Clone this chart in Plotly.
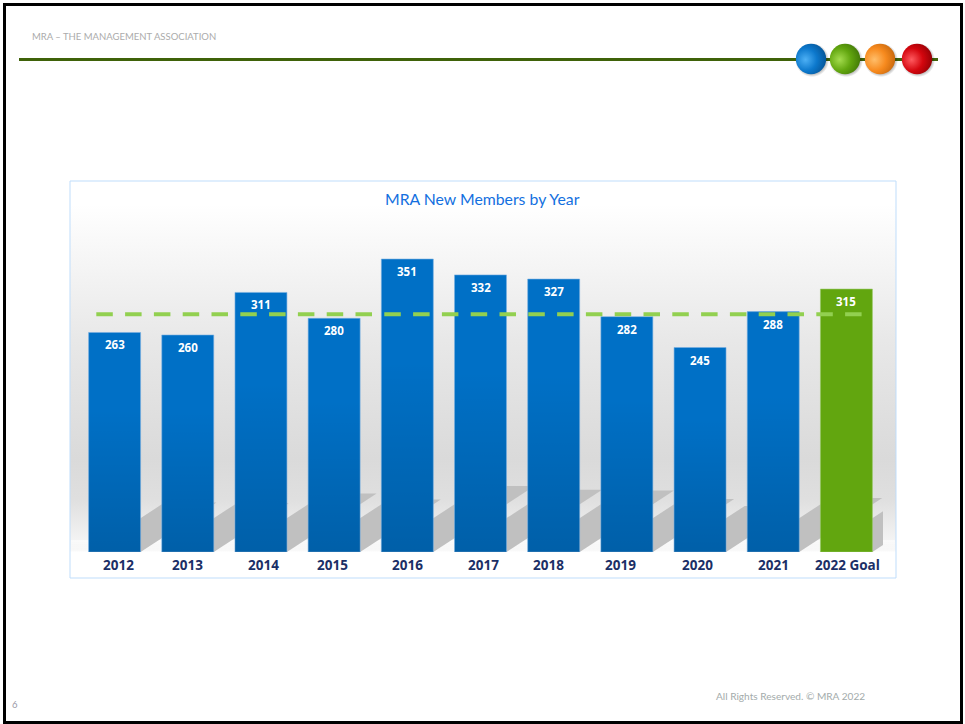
import base64
import plotly.graph_objects as go

# Chart data
categories = ["2012", "2013", "2014", "2015", "2016", "2017", "2018", "2019", "2020", "2021", "2022 Goal"]
new_members = [263, 260, 311, 280, 351, 332, 327, 282, 245, 288, 315]
reference_level = 285
label_nudges = [4.4, 0.2, 3, -1.6, -0.3, 2.5, -5.2, -5.9, -3, -0.2, 1.1]

# Colours
BLUE = "#0070C6"
GREEN = "#62A60F"
DASH = "#92D050"
NAVY = "#1B2F66"

W, H = 965, 724
L, R, T, B = 78, 883, 181, 552   # plot rectangle in page pixels
BAR_WIDTH = 0.71
Y_TOP = 444.5
SHADOW_RISE = 0.225              # shadow height as a share of bar height
SHADOW_SHEAR = 0.00394           # sideways lean of the shadow per member


def px(x):
    return (x - L) / (R - L)


def py(y):
    return (B - y) / (B - T)


def svg_uri(body, w=100, h=100):
    svg = (f'<svg xmlns="http://www.w3.org/2000/svg" width="{w}" height="{h}" '
           f'viewBox="0 0 {w} {h}" preserveAspectRatio="none">{body}</svg>')
    return "data:image/svg+xml;base64," + base64.b64encode(svg.encode()).decode()


def backdrop_uri():
    stops = [(0, "#ffffff"), (0.06, "#ffffff"), (0.40, "#e8e8e8"), (0.70, "#dadada"),
             (0.80, "#dfdfdf"), (0.93, "#f8f8f8"), (0.935, "#ffffff"), (1, "#ffffff")]
    s = "".join(f'<stop offset="{o}" stop-color="{c}"/>' for o, c in stops)
    return svg_uri(f'<defs><linearGradient id="g" x1="0" y1="0" x2="0" y2="1">{s}</linearGradient></defs>'
                   f'<rect width="100" height="100" fill="url(#g)"/>')


def bar_shade_uri():
    return svg_uri('<defs><linearGradient id="g" x1="0" y1="0" x2="0" y2="1">'
                   '<stop offset="0.35" stop-color="#000" stop-opacity="0"/>'
                   '<stop offset="1" stop-color="#000" stop-opacity="0.15"/>'
                   '</linearGradient></defs><rect width="100" height="100" fill="url(#g)"/>')


def sphere_uri(light, mid, dark):
    return svg_uri(
        '<defs>'
        f'<radialGradient id="b" cx="0.32" cy="0.52" r="0.75">'
        f'<stop offset="0" stop-color="{light}"/><stop offset="0.5" stop-color="{mid}"/>'
        f'<stop offset="1" stop-color="{dark}"/></radialGradient>'
        '<radialGradient id="s"><stop offset="0.75" stop-color="#000" stop-opacity="0.35"/>'
        '<stop offset="1" stop-color="#000" stop-opacity="0"/></radialGradient>'
        '</defs>'
        '<circle cx="53" cy="53" r="46" fill="url(#s)"/>'
        '<circle cx="50" cy="50" r="41" fill="url(#b)"/>')


x_pos = list(range(len(categories)))
bar_colors = [BLUE] * 10 + [GREEN]
edge_colors = ["rgba(120,175,225,0.6)"] * 10 + ["rgba(150,200,100,0.6)"]

fig = go.Figure()
fig.add_trace(go.Bar(
    x=x_pos, y=new_members, width=BAR_WIDTH,
    marker=dict(color=bar_colors, line=dict(color=edge_colors, width=1)),
    hoverinfo="skip", showlegend=False,
))
fig.add_trace(go.Scatter(
    x=[-0.25, 10.21], y=[reference_level, reference_level], mode="lines",
    line=dict(color=DASH, width=4, dash="16.5px,12.3px"),
    hoverinfo="skip", showlegend=False,
))

images = [dict(source=backdrop_uri(), xref="paper", yref="paper", x=px(70), y=py(181),
               sizex=(896 - 70) / (R - L), sizey=(578 - 181) / (B - T),
               xanchor="left", yanchor="top", sizing="stretch", layer="below")]

# Darkening toward the foot of each blue bar
for i, v in zip(x_pos[:-1], new_members[:-1]):
    images.append(dict(source=bar_shade_uri(), xref="x", yref="y", x=i - BAR_WIDTH / 2, y=v,
                       sizex=BAR_WIDTH, sizey=v, xanchor="left", yanchor="top",
                       sizing="stretch", layer="above"))

# Header beads
beads = [(811, "#4DB0F5", "#0C78CC", "#05508F"), (845, "#A4DC4E", "#62A60F", "#3D7206"),
         (880, "#FFBE6A", "#F78A1E", "#C0620A"), (917, "#FF5A5F", "#D4060E", "#8A0004")]
for cx, light, mid, dark in beads:
    images.append(dict(source=sphere_uri(light, mid, dark), xref="paper", yref="paper",
                       x=px(cx - 18.5), y=py(59 - 18.5), sizex=37 / (R - L), sizey=37 / (B - T),
                       xanchor="left", yanchor="top", sizing="stretch", layer="above"))

# Leaning floor shadows behind the bars
shapes = []
for i, v in zip(x_pos, new_members):
    x0, x1 = i - BAR_WIDTH / 2, i + BAR_WIDTH / 2
    lean = v * SHADOW_SHEAR
    top = v * SHADOW_RISE
    shapes.append(dict(type="path", xref="x", yref="y", layer="below", line=dict(width=0),
                       fillcolor="#c0c0c0",
                       path=f"M{x0},0 L{x1},0 L{x1 + lean},{top} L{x0 + lean},{top} Z"))

page = dict(xref="paper", yref="paper")

# Fade the shadows out as they meet the floor
for k, alpha in enumerate([0.05, 0.10, 0.17, 0.26, 0.38, 0.52]):
    shapes.append(dict(type="rect", x0=px(71), x1=px(895), y0=py(552 - 2 * k), y1=py(550 - 2 * k),
                       layer="below", line=dict(width=0), fillcolor=f"rgba(255,255,255,{alpha})", **page))

shapes += [
    dict(type="rect", x0=px(70), x1=px(896), y0=py(578), y1=py(181), layer="below",
         line=dict(color="#BFDDFB", width=1), **page),
    dict(type="line", x0=px(19), x1=px(938), y0=py(59.5), y1=py(59.5), layer="below",
         line=dict(color="#3F6209", width=3), **page),
    dict(type="rect", x0=px(4.5), x1=px(961.5), y0=py(722.5), y1=py(4.5), layer="above",
         line=dict(color="#000000", width=3), **page),
]

annotations = [
    dict(text="MRA New Members by Year", x=px(483), y=py(198), xanchor="center", yanchor="middle",
         showarrow=False, font=dict(family="Lato", size=15.8, color="#1470E0"), **page),
    dict(text="MRA – THE MANAGEMENT ASSOCIATION", x=px(30), y=py(37), xanchor="left", yanchor="middle",
         showarrow=False, font=dict(family="Lato", size=9.5, color="#ABABAB"), **page),
    dict(text="All Rights Reserved. © MRA 2022", x=px(714), y=py(695.5), xanchor="left", yanchor="middle",
         showarrow=False, font=dict(family="Lato", size=10.1, color="#A3ABAB"), **page),
    dict(text="6", x=px(10), y=py(704), xanchor="left", yanchor="middle",
         showarrow=False, font=dict(family="Lato", size=9.5, color="#9A9AA8"), **page),
]
for i, v, name, nudge in zip(x_pos, new_members, categories, label_nudges):
    annotations.append(dict(text=f"<b>{v}</b>", x=i, y=v, xref="x", yref="y", yshift=-12.5,
                            xanchor="center", yanchor="middle", showarrow=False,
                            font=dict(family="Open Sans", size=11.5, color="#ffffff")))
    annotations.append(dict(text=f"<b>{name}</b>", x=i, y=0, xref="x", yref="y", yshift=-13, xshift=nudge,
                            xanchor="center", yanchor="middle", showarrow=False,
                            font=dict(family="Open Sans", size=13.5, color=NAVY)))

fig.update_layout(
    width=W, height=H, autosize=False,
    margin=dict(l=L, r=W - R, t=T, b=H - B, pad=0),
    paper_bgcolor="#ffffff", plot_bgcolor="rgba(0,0,0,0)",
    xaxis=dict(range=[-0.5, 10.5], visible=False),
    yaxis=dict(range=[0, Y_TOP], visible=False),
    images=images, shapes=shapes, annotations=annotations,
    showlegend=False,
)

fig.write_html("out.html", config=dict(displayModeBar=False))
